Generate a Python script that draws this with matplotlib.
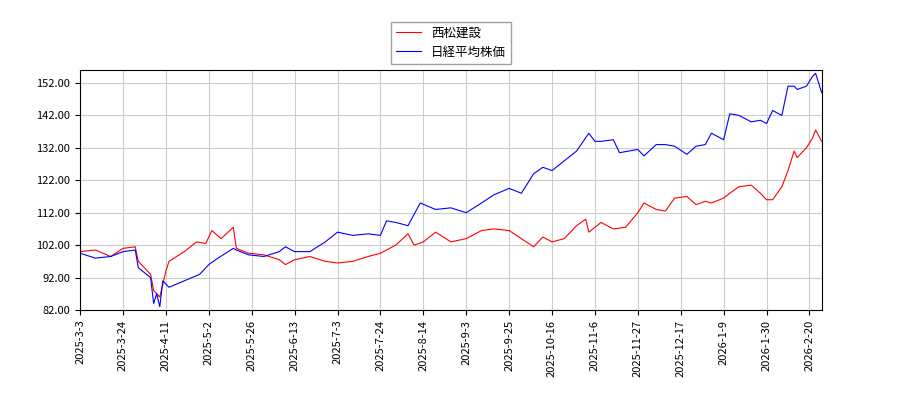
import numpy as np
import pandas as pd
import matplotlib.pyplot as plt

plt.rcParams['font.family'] = ['Noto Sans CJK JP', 'DejaVu Sans']

red_dates = ["2025-3-3", "2025-3-10", "2025-3-17", "2025-3-24", "2025-3-28", "2025-3-31", "2025-4-4",
             "2025-4-7", "2025-4-9", "2025-4-11", "2025-4-14", "2025-4-21", "2025-4-25", "2025-5-1",
             "2025-5-7", "2025-5-12", "2025-5-16", "2025-5-19", "2025-5-23", "2025-5-30", "2025-6-6",
             "2025-6-10", "2025-6-13", "2025-6-20", "2025-6-27", "2025-7-3", "2025-7-10", "2025-7-17",
             "2025-7-24", "2025-7-31", "2025-8-6", "2025-8-8", "2025-8-14", "2025-8-20", "2025-8-27",
             "2025-9-3", "2025-9-10", "2025-9-17", "2025-9-25", "2025-10-1", "2025-10-7", "2025-10-10",
             "2025-10-16", "2025-10-22", "2025-10-28", "2025-10-31", "2025-11-4", "2025-11-10",
             "2025-11-14", "2025-11-20", "2025-11-27", "2025-12-1", "2025-12-5", "2025-12-10",
             "2025-12-15", "2025-12-19", "2025-12-24", "2025-12-29", "2026-1-5", "2026-1-9", "2026-1-14",
             "2026-1-19", "2026-1-23", "2026-1-28", "2026-1-30", "2026-2-3", "2026-2-6", "2026-2-10",
             "2026-2-13", "2026-2-16", "2026-2-19", "2026-2-24", "2026-2-25", "2026-2-27"]
red_vals = [100, 100.5, 98.5, 101, 101.5, 97, 93, 88, 86, 94, 97, 100, 103, 102.5, 106.5, 104, 107.5,
            101, 99.5, 99, 97.5, 96, 97.5, 98.5, 97, 96.5, 97, 98.5, 99.5, 102, 105.5, 102, 103, 106,
            103, 104, 106.5, 107, 106.5, 104, 101.5, 104.5, 103, 104, 108, 110, 106, 109, 107, 107.5,
            112, 115, 113, 112.5, 116.5, 117, 114.5, 115.5, 115, 116.5, 118, 120, 120.5, 118, 116,
            116, 120, 125, 131, 129, 132, 135, 137.5, 134]

blue_dates = ["2025-3-3", "2025-3-10", "2025-3-17", "2025-3-24", "2025-3-28", "2025-3-31", "2025-4-4",
              "2025-4-7", "2025-4-8", "2025-4-9", "2025-4-10", "2025-4-14", "2025-4-21", "2025-4-28",
              "2025-5-2", "2025-5-9", "2025-5-16", "2025-5-19", "2025-5-23", "2025-5-30", "2025-6-6",
              "2025-6-10", "2025-6-13", "2025-6-20", "2025-6-27", "2025-7-3", "2025-7-10", "2025-7-17",
              "2025-7-24", "2025-7-28", "2025-7-31", "2025-8-6", "2025-8-13", "2025-8-20", "2025-8-27",
              "2025-9-3", "2025-9-10", "2025-9-17", "2025-9-25", "2025-10-1", "2025-10-7", "2025-10-10",
              "2025-10-16", "2025-10-22", "2025-10-28", "2025-11-4", "2025-11-6", "2025-11-10",
              "2025-11-14", "2025-11-18", "2025-11-21", "2025-11-27", "2025-12-1", "2025-12-5",
              "2025-12-10", "2025-12-15", "2025-12-19", "2025-12-24", "2025-12-29", "2026-1-5",
              "2026-1-9", "2026-1-14", "2026-1-19", "2026-1-23", "2026-1-28", "2026-1-30", "2026-2-3",
              "2026-2-6", "2026-2-10", "2026-2-13", "2026-2-16", "2026-2-19", "2026-2-24", "2026-2-25",
              "2026-2-27"]
blue_vals = [99.5, 98, 98.5, 100, 100.5, 95, 92, 84, 87, 83, 91, 89, 91, 93, 96, 98, 101, 100.5, 99,
             98.5, 100, 101.5, 100, 100, 103, 106, 105, 105.5, 105, 109.5, 109, 108, 115, 113, 113.5,
             112, 115, 117.5, 119.5, 118, 124, 126, 125, 128, 131, 136.5, 134, 134, 134.5, 130.5, 131,
             131.5, 129.5, 133, 133, 132.5, 130, 132.5, 133, 136.5, 134.5, 142.5, 142, 140, 140.5,
             139.5, 143.5, 142, 151, 151, 150, 151, 154, 155, 149]

tick_labels = ["2025-3-3", "2025-3-24", "2025-4-11", "2025-5-2", "2025-5-26", "2025-6-13", "2025-7-3",
               "2025-7-24", "2025-8-14", "2025-9-3", "2025-9-25", "2025-10-16", "2025-11-6",
               "2025-11-27", "2025-12-17", "2026-1-9", "2026-1-30", "2026-2-20"]

# market holidays on weekdays (x axis counts trading days)
holidays = ["2025-3-20", "2025-4-29", "2025-5-5", "2025-5-6", "2025-7-21", "2025-8-11", "2025-9-15",
            "2025-9-23", "2025-10-13", "2025-11-3", "2025-11-24", "2025-12-31", "2026-1-1", "2026-1-2",
            "2026-1-12", "2026-2-11", "2026-2-23"]
days = pd.bdate_range("2025-3-3", "2026-2-27")
days = days[~days.isin(pd.to_datetime(holidays))]


def pos(dates):
    return np.searchsorted(days.values, pd.to_datetime(dates).values)


fig = plt.figure(figsize=(9, 4), dpi=100)
ax = fig.add_axes([0.089, 0.225, 0.824, 0.60])
ax.plot(pos(red_dates), red_vals, color="red", lw=0.8, label="西松建設")
ax.plot(pos(blue_dates), blue_vals, color="blue", lw=0.8, label="日経平均株価")

ax.set_xlim(0, len(days) - 1)
ax.set_ylim(82, 156)
ax.set_yticks(range(82, 153, 10))
ax.set_yticklabels([f"{v:.2f}" for v in range(82, 153, 10)], fontsize=8)
ax.set_xticks(pos(tick_labels))
ax.set_xticklabels(tick_labels, rotation=90, fontsize=8)
ax.grid(True, color="#cccccc", lw=0.8)
ax.legend(loc="lower center", bbox_to_anchor=(0.5, 1.0), fontsize=9, fancybox=False, edgecolor="#888888")

plt.savefig("out.png", dpi=100)
